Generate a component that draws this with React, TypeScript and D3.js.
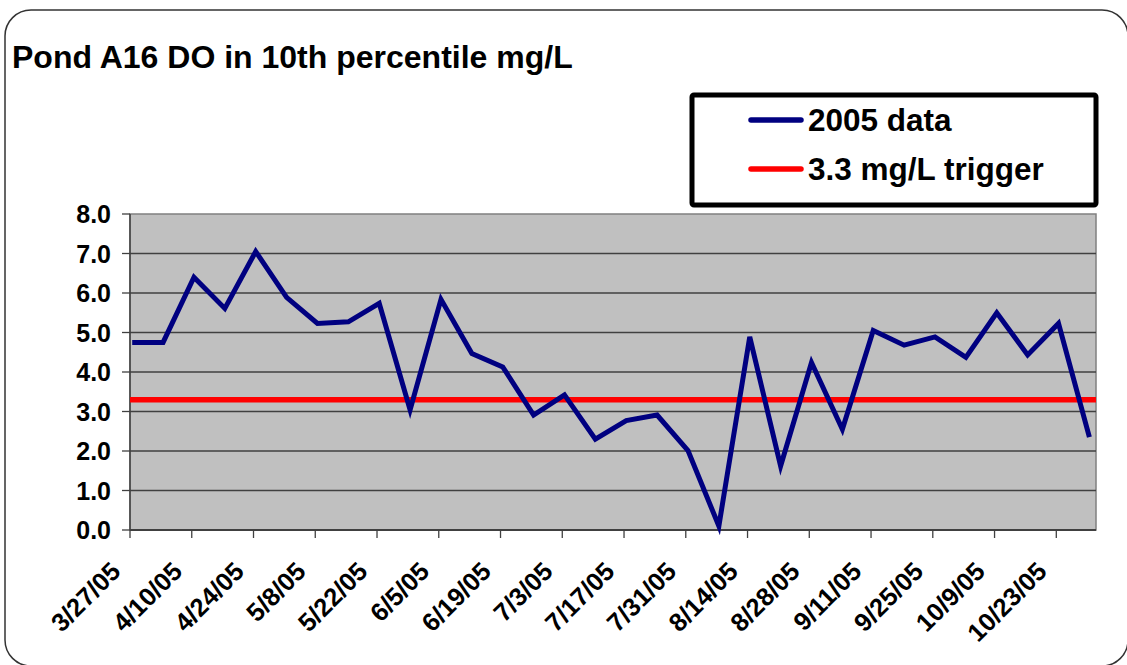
import React from 'react';
import * as d3 from 'd3';

const WIDTH = 1127;
const HEIGHT = 665;

const TITLE = 'Pond A16 DO in 10th percentile mg/L';
const SERIES_NAME = '2005 data';
const TRIGGER_NAME = '3.3 mg/L trigger';
const TRIGGER = 3.3;

// weekly sample dates (2005)
const sampleDates = [
  '2005-03-27', '2005-04-03', '2005-04-10', '2005-04-17', '2005-04-24', '2005-05-01',
  '2005-05-08', '2005-05-15', '2005-05-22', '2005-05-29', '2005-06-05', '2005-06-12',
  '2005-06-19', '2005-06-26', '2005-07-03', '2005-07-10', '2005-07-17', '2005-07-24',
  '2005-07-31', '2005-08-07', '2005-08-14', '2005-08-21', '2005-08-28', '2005-09-04',
  '2005-09-11', '2005-09-18', '2005-09-25', '2005-10-02', '2005-10-09', '2005-10-16',
  '2005-10-23', '2005-10-30',
];

// DO 10th percentile, mg/L
const doValues = [
  4.75, 4.75, 6.4, 5.61, 7.05, 5.89, 5.23, 5.27, 5.74, 3.04, 5.84, 4.47, 4.13, 2.91, 3.42, 2.3,
  2.77, 2.91, 2.01, 0.1, 4.89, 1.62, 4.24, 2.55, 5.05, 4.68, 4.89, 4.37, 5.5, 4.43, 5.23, 2.35,
];

const yTicks = [0, 1, 2, 3, 4, 5, 6, 7, 8];
const xDomain = ['2005-03-27', '2005-11-01'];
const xTickStart = '2005-03-27';
const xTickEnd = '2005-10-24';

const FONT = '"Liberation Sans", Arial, Helvetica, sans-serif';

const margin = { left: 130, right: 1096, top: 214, bottom: 530 };

const parse = (s: string) => new Date(s + 'T00:00:00Z');

export default function App() {
  const x = d3.scaleUtc().domain(xDomain.map(parse)).range([margin.left, margin.right]);
  const y = d3.scaleLinear().domain([0, 8]).range([margin.bottom, margin.top]);

  // excel date axis puts each point in the middle of its day
  const halfDay = 12 * 3600 * 1000;
  const points = sampleDates.map((d, i) => ({ date: new Date(parse(d).getTime() + halfDay), v: doValues[i] }));

  const line = d3
    .line<{ date: Date; v: number }>()
    .x((d) => x(d.date))
    .y((d) => y(d.v));

  const xTicks = d3.utcDay.range(parse(xTickStart), parse(xTickEnd), 14);
  const fmt = d3.utcFormat('%-m/%-d/%y');

  return (
    <svg
      width={WIDTH}
      height={HEIGHT}
      style={{ position: 'absolute', left: 0, top: 0, background: '#fff' }}
      fontFamily={FONT}
    >
      {/* outer frame */}
      <rect x={5} y={10} width={1123} height={656} rx={26} ry={26} fill="#fff" stroke="#333" strokeWidth={1.5} />

      <text x={12} y={68} fontSize={32} fontWeight="bold" fill="#000">
        {TITLE}
      </text>

      {/* plot area */}
      <rect
        x={margin.left}
        y={margin.top}
        width={margin.right - margin.left}
        height={margin.bottom - margin.top}
        fill="#c0c0c0"
        stroke="#808080"
        strokeWidth={1.5}
      />
      {yTicks.slice(1, -1).map((t) => (
        <line key={t} x1={margin.left} x2={margin.right} y1={y(t)} y2={y(t)} stroke="#404040" strokeWidth={1.3} />
      ))}

      {/* y axis */}
      <line x1={margin.left} x2={margin.left} y1={margin.top} y2={margin.bottom} stroke="#404040" strokeWidth={1.5} />
      {yTicks.map((t) => (
        <g key={t}>
          <line x1={margin.left - 8} x2={margin.left} y1={y(t)} y2={y(t)} stroke="#404040" strokeWidth={1.3} />
          <text x={111} y={y(t) + 9} textAnchor="end" fontSize={25} fontWeight="bold">
            {d3.format('.1f')(t)}
          </text>
        </g>
      ))}

      {/* x axis */}
      <line x1={margin.left} x2={margin.right} y1={margin.bottom} y2={margin.bottom} stroke="#404040" strokeWidth={2} />
      {xTicks.map((d) => {
        const tx = x(d);
        return (
          <g key={d.getTime()}>
            <line x1={tx} x2={tx} y1={margin.bottom} y2={margin.bottom + 8} stroke="#404040" strokeWidth={1.3} />
            <text
              transform={`translate(${tx - 8},${573}) rotate(-45)`}
              textAnchor="end"
              fontSize={25.5}
              fontWeight="bold"
            >
              {fmt(d)}
            </text>
          </g>
        );
      })}

      {/* trigger line */}
      <line
        x1={margin.left}
        x2={margin.right}
        y1={y(TRIGGER)}
        y2={y(TRIGGER)}
        stroke="#ff0000"
        strokeWidth={5.5}
      />

      {/* data line */}
      <path d={line(points) ?? ''} fill="none" stroke="#000080" strokeWidth={5} strokeLinejoin="miter" />

      {/* legend */}
      <rect x={692} y={95} width={404} height={110} fill="#fff" stroke="#000" strokeWidth={5} rx={2} />
      <line x1={751} x2={801} y1={120} y2={120} stroke="#000080" strokeWidth={5.5} strokeLinecap="round" />
      <text x={808} y={131} fontSize={31.5} fontWeight="bold">
        {SERIES_NAME}
      </text>
      <line x1={751} x2={801} y1={169} y2={169} stroke="#ff0000" strokeWidth={5.5} strokeLinecap="round" />
      <text x={808} y={180} fontSize={31.5} fontWeight="bold">
        {TRIGGER_NAME}
      </text>
    </svg>
  );
}
